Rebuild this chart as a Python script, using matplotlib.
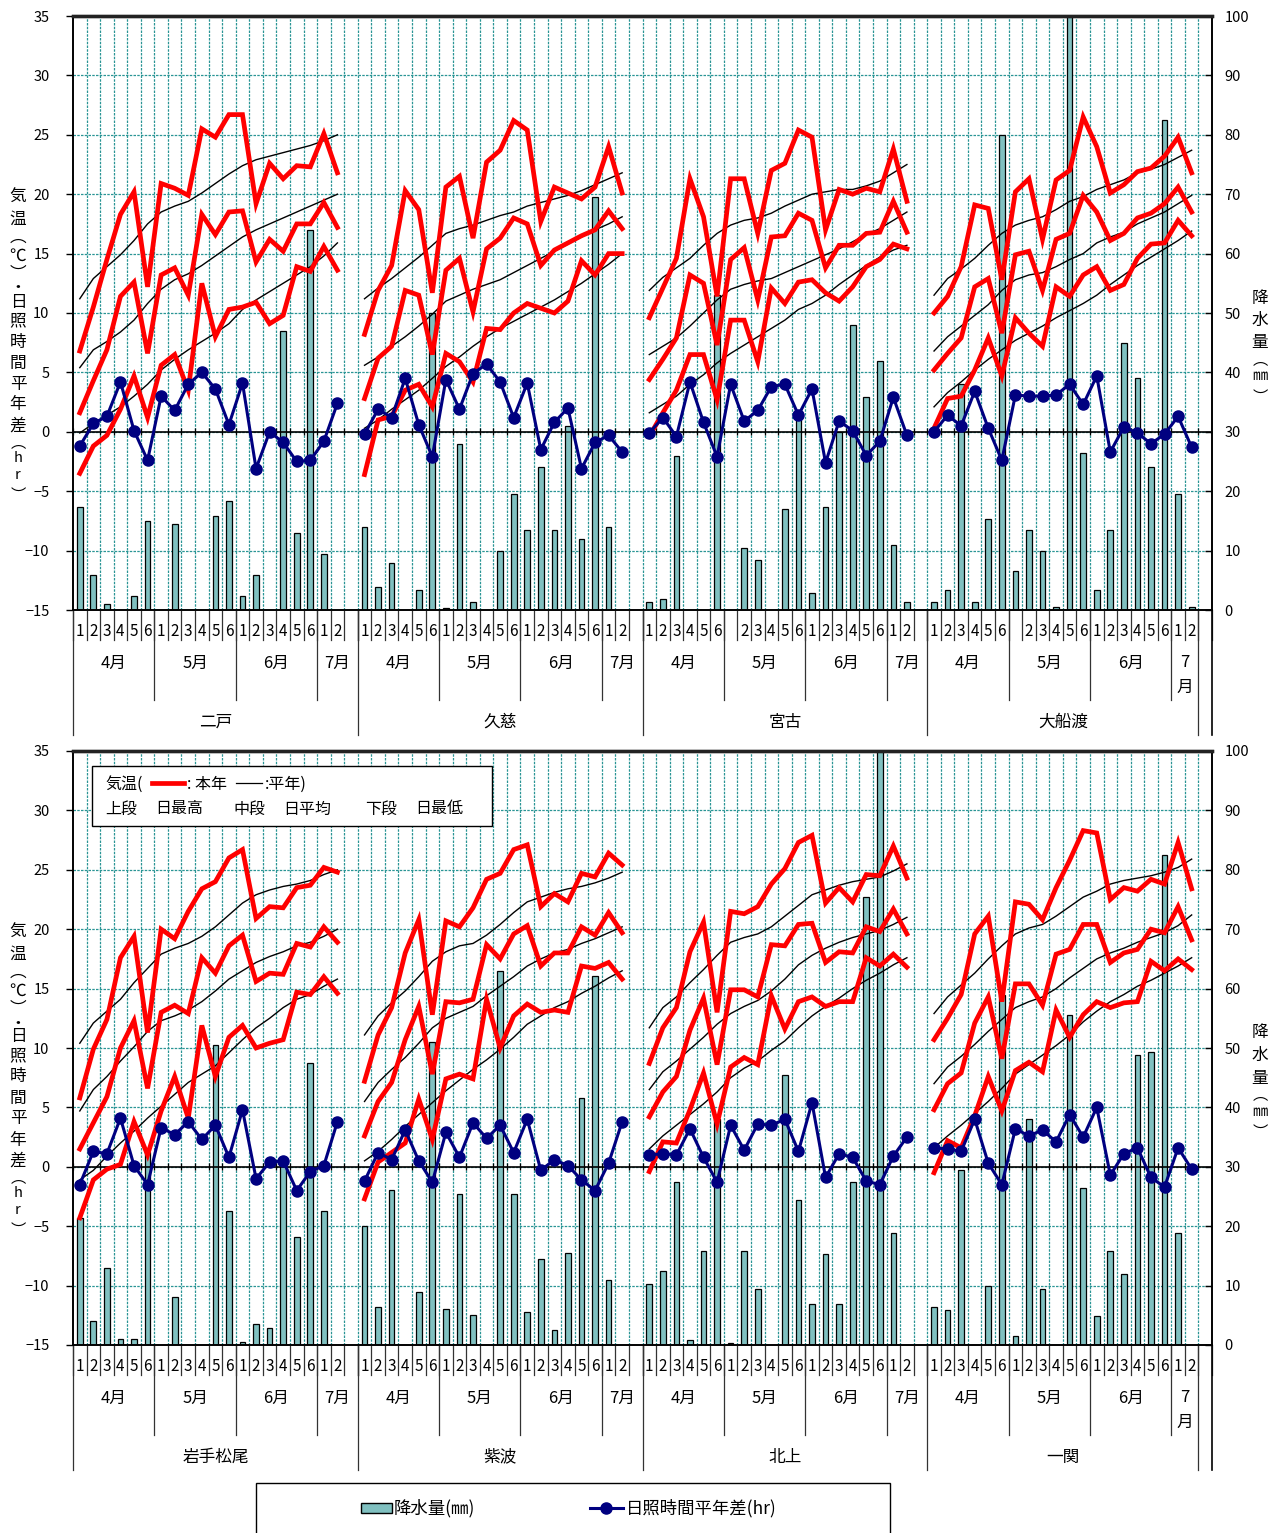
import numpy as np
import matplotlib
matplotlib.use("Agg")
import matplotlib.pyplot as plt
from matplotlib.patches import Rectangle
from matplotlib.lines import Line2D

plt.rcParams["font.family"] = ["Noto Sans CJK JP", "DejaVu Sans"]

W, H = 1284, 1533

# ---- category labels ----
months = ["4月", "5月", "6月", "7月"]
pentads = ["1", "2", "3", "4", "5", "6"] * 3 + ["1", "2"]
pentads_no_may1 = pentads[:6] + [""] + pentads[7:]

top_stations = ["二戸", "久慈", "宮古", "大船渡"]
bottom_stations = ["岩手松尾", "紫波", "北上", "一関"]

# ---- 二戸 ----
ninohe_tmax = [6.8, 10.5, 14.5, 18.3, 20.2, 12.2, 20.9, 20.5, 19.9, 25.5, 24.8, 26.7, 26.7, 19.2, 22.6, 21.3, 22.4, 22.3, 25.1, 21.8]
ninohe_tmax_n = [11.2, 12.9, 13.9, 14.9, 16.1, 17.5, 18.5, 19.0, 19.4, 20.1, 20.9, 21.7, 22.4, 22.9, 23.2, 23.5, 23.8, 24.1, 24.5, 25.0]
ninohe_tmean = [1.6, 4.3, 6.9, 11.4, 12.6, 6.6, 13.2, 13.8, 11.5, 18.3, 16.6, 18.5, 18.6, 14.3, 16.2, 15.2, 17.5, 17.5, 19.3, 17.2]
ninohe_tmean_n = [5.4, 6.9, 7.6, 8.4, 9.4, 10.8, 12.0, 12.8, 13.3, 14.0, 14.8, 15.6, 16.4, 17.0, 17.5, 18.0, 18.5, 19.0, 19.5, 20.0]
ninohe_tmin = [-3.5, -1.2, -0.3, 1.9, 4.7, 1.2, 5.6, 6.5, 3.5, 12.5, 8.0, 10.3, 10.5, 10.9, 9.1, 9.8, 13.9, 13.5, 15.6, 13.6]
ninohe_tmin_n = [-0.1, 0.7, 1.4, 2.1, 3.0, 4.0, 5.2, 6.1, 6.9, 7.6, 8.3, 9.1, 10.3, 11.1, 11.8, 12.5, 13.2, 13.9, 14.8, 15.9]
ninohe_sun = [-1.2, 0.7, 1.3, 4.2, 0.1, -2.4, 3.0, 1.8, 4.0, 5.0, 3.6, 0.6, 4.1, -3.1, 0.0, -0.9, -2.5, -2.4, -0.8, 2.4]
ninohe_rain = [17.4, 5.9, 1.0, 0, 2.4, 15.0, 0, 14.5, 0, 0, 15.9, 18.4, 2.4, 5.9, 0, 47.0, 12.9, 64.0, 9.4, 0]

# ---- 久慈 ----
kuji_tmax = [8.2, 11.9, 14.0, 20.3, 18.7, 11.7, 20.6, 21.5, 16.3, 22.7, 23.7, 26.2, 25.4, 17.7, 20.6, 20.1, 19.6, 20.6, 24.0, 20.1]
kuji_tmax_n = [11.2, 12.1, 12.9, 13.8, 14.7, 15.7, 16.7, 17.1, 17.4, 17.8, 18.2, 18.5, 19.0, 19.3, 19.6, 19.9, 20.3, 20.8, 21.3, 21.8]
kuji_tmean = [2.8, 6.2, 7.2, 11.9, 11.5, 6.5, 13.6, 14.6, 10.1, 15.4, 16.3, 18.0, 17.5, 14.0, 15.3, 15.9, 16.5, 17.0, 18.6, 17.1]
kuji_tmean_n = [5.6, 6.3, 7.2, 8.0, 8.9, 9.9, 11.0, 11.5, 12.0, 12.4, 12.8, 13.4, 14.0, 14.6, 15.2, 15.8, 16.4, 17.0, 17.5, 18.1]
kuji_tmin = [-3.6, 1.0, 1.3, 3.5, 4.0, 2.1, 6.6, 5.9, 4.2, 8.7, 8.6, 10.0, 10.8, 10.4, 10.0, 11.0, 14.4, 13.2, 15.0, 15.0]
kuji_tmin_n = [0.3, 1.0, 1.9, 2.7, 3.5, 4.5, 5.5, 6.3, 7.2, 8.0, 8.7, 9.3, 9.9, 10.5, 11.1, 11.8, 12.5, 13.3, 14.1, 15.0]
kuji_sun = [-0.2, 1.9, 1.2, 4.5, 0.6, -2.1, 4.4, 1.9, 4.9, 5.7, 4.2, 1.2, 4.1, -1.5, 0.8, 2.0, -3.1, -0.9, -0.3, -1.7]
kuji_rain = [13.9, 3.9, 7.9, 0, 3.4, 50.0, 0.4, 27.9, 1.4, 0, 10.0, 19.5, 13.5, 24.0, 13.5, 31.0, 12.0, 69.5, 13.9, 0]

# ---- 宮古 ----
miyako_tmax = [9.6, 12.1, 14.6, 21.3, 18.1, 11.4, 21.3, 21.3, 16.7, 22.0, 22.6, 25.4, 24.8, 17.0, 20.4, 20.0, 20.5, 20.2, 23.8, 19.4]
miyako_tmax_n = [11.9, 13.0, 13.8, 14.6, 15.7, 16.7, 17.4, 17.8, 18.0, 18.4, 19.0, 19.5, 20.0, 20.2, 20.4, 20.4, 20.7, 21.1, 21.8, 22.5]
miyako_tmean = [4.4, 6.1, 7.9, 13.2, 12.5, 7.3, 14.5, 15.5, 11.1, 16.4, 16.5, 18.4, 17.8, 13.8, 15.7, 15.7, 16.7, 16.8, 19.4, 16.8]
miyako_tmean_n = [6.5, 7.2, 7.9, 8.9, 10.0, 11.1, 12.0, 12.4, 12.7, 12.9, 13.4, 13.9, 14.4, 14.9, 15.4, 16.0, 16.6, 17.1, 17.8, 18.5]
miyako_tmin = [-0.4, 1.6, 3.5, 6.5, 6.5, 2.7, 9.4, 9.4, 5.9, 12.1, 10.8, 12.6, 12.8, 11.7, 11.0, 12.2, 13.9, 14.5, 15.8, 15.4]
miyako_tmin_n = [1.6, 2.3, 3.0, 4.0, 4.8, 5.8, 6.6, 7.3, 8.0, 8.7, 9.4, 10.3, 10.8, 11.5, 12.4, 13.2, 14.0, 14.7, 15.3, 15.7]
miyako_sun = [-0.1, 1.2, -0.4, 4.2, 0.8, -2.1, 4.0, 0.9, 1.8, 3.8, 4.0, 1.4, 3.6, -2.6, 0.9, 0.1, -2.0, -0.8, 2.9, -0.3]
miyako_rain = [1.4, 1.9, 26.0, 0, 0, 53.0, 0, 10.4, 8.4, 0, 17.0, 33.0, 2.9, 17.4, 30.0, 48.0, 35.9, 42.0, 10.9, 1.4]

# ---- 大船渡 ----
ofunato_tmax = [10.0, 11.4, 13.9, 19.1, 18.8, 12.8, 20.2, 21.3, 16.2, 21.2, 22.0, 26.5, 24.0, 20.1, 20.8, 21.9, 22.2, 23.2, 24.8, 21.8]
ofunato_tmax_n = [11.5, 12.9, 13.7, 14.6, 15.7, 16.7, 17.4, 17.8, 18.1, 18.7, 19.4, 19.8, 20.4, 20.8, 21.2, 21.8, 22.1, 22.5, 23.1, 23.7]
ofunato_tmean = [5.2, 6.6, 7.9, 12.2, 12.9, 8.3, 14.9, 15.2, 11.9, 16.2, 16.7, 19.9, 18.5, 16.1, 16.7, 18.0, 18.4, 19.2, 20.6, 18.5]
ofunato_tmean_n = [6.8, 8.0, 8.9, 9.8, 10.7, 11.9, 12.8, 13.2, 13.4, 13.9, 14.5, 15.0, 15.9, 16.4, 16.8, 17.5, 18.0, 18.5, 19.2, 19.9]
ofunato_tmin = [0.3, 2.8, 3.0, 5.2, 7.9, 4.7, 9.6, 8.3, 7.2, 12.2, 11.4, 13.2, 13.9, 11.9, 12.4, 14.6, 15.8, 15.9, 17.8, 16.5]
ofunato_tmin_n = [2.1, 3.3, 4.2, 5.2, 6.1, 6.9, 7.7, 8.3, 8.9, 9.6, 10.2, 10.8, 11.5, 12.4, 13.2, 14.0, 14.7, 15.4, 16.1, 16.9]
ofunato_sun = [0.0, 1.4, 0.5, 3.4, 0.3, -2.4, 3.1, 3.0, 3.0, 3.1, 4.0, 2.3, 4.7, -1.7, 0.4, -0.1, -1.0, -0.2, 1.3, -1.3]
ofunato_rain = [1.4, 3.4, 38.0, 1.4, 15.4, 80.0, 6.5, 13.5, 10.0, 0.5, 100.0, 26.5, 3.4, 13.5, 45.0, 39.0, 24.0, 82.5, 19.5, 0.5]

# ---- 岩手松尾 ----
matsuo_tmax = [5.8, 9.9, 12.4, 17.6, 19.4, 11.3, 20.0, 19.2, 21.5, 23.4, 24.0, 26.0, 26.7, 20.9, 21.9, 21.8, 23.5, 23.7, 25.2, 24.8]
matsuo_tmax_n = [10.4, 12.1, 13.1, 14.1, 15.5, 16.7, 17.9, 18.4, 18.8, 19.4, 20.2, 21.2, 22.2, 22.9, 23.3, 23.6, 23.8, 24.1, 24.6, 25.0]
matsuo_tmean = [1.5, 3.7, 5.9, 10.0, 12.3, 6.6, 13.0, 13.6, 12.9, 17.6, 16.3, 18.6, 19.5, 15.6, 16.3, 16.2, 18.8, 18.5, 20.2, 18.9]
matsuo_tmean_n = [4.7, 6.5, 7.6, 8.9, 10.1, 11.4, 12.3, 12.7, 13.2, 13.9, 14.8, 15.8, 16.5, 17.2, 17.7, 18.1, 18.6, 18.9, 19.4, 20.0]
matsuo_tmin = [-4.3, -1.1, -0.2, 0.2, 3.8, 1.0, 4.7, 7.6, 4.1, 11.9, 7.6, 10.9, 11.9, 10.0, 10.4, 10.7, 14.7, 14.5, 16.0, 14.6]
matsuo_tmin_n = [-1.1, -0.3, 0.9, 2.0, 3.0, 4.1, 5.1, 6.1, 7.1, 7.8, 8.5, 9.6, 10.7, 11.7, 12.5, 13.4, 14.1, 14.5, 15.2, 15.8]
matsuo_sun = [-1.5, 1.3, 1.1, 4.1, 0.1, -1.5, 3.3, 2.7, 3.8, 2.3, 3.5, 0.8, 4.8, -1.0, 0.4, 0.5, -2.0, -0.4, 0.1, 3.8]
matsuo_rain = [21.4, 4.0, 13.0, 1.0, 1.0, 32.5, 0, 8.0, 0, 0, 50.5, 22.5, 0.5, 3.5, 2.9, 31.0, 18.1, 47.5, 22.5, 0]

# ---- 紫波 ----
shiwa_tmax = [7.2, 11.1, 13.4, 18.0, 20.8, 12.8, 20.7, 20.2, 21.8, 24.2, 24.7, 26.7, 27.1, 21.9, 23.0, 22.3, 24.7, 24.4, 26.4, 25.4]
shiwa_tmax_n = [11.1, 12.7, 13.8, 14.8, 16.0, 17.3, 18.1, 18.6, 18.8, 19.5, 20.4, 21.4, 22.3, 22.7, 23.1, 23.4, 23.6, 23.9, 24.3, 24.8]
shiwa_tmean = [2.6, 5.5, 7.1, 10.7, 13.5, 7.8, 13.9, 13.8, 14.1, 18.7, 17.5, 19.6, 20.3, 16.9, 18.0, 18.0, 20.2, 19.5, 21.4, 19.7]
shiwa_tmean_n = [5.5, 7.1, 8.2, 9.2, 10.4, 11.7, 12.5, 13.0, 13.5, 14.4, 15.2, 16.0, 16.9, 17.5, 18.0, 18.3, 18.8, 19.2, 19.7, 20.2]
shiwa_tmin = [-2.7, 0.4, 1.2, 2.0, 5.7, 2.3, 7.4, 7.8, 7.4, 14.1, 10.0, 12.7, 13.7, 13.0, 13.2, 13.0, 16.9, 16.7, 17.2, 15.8]
shiwa_tmin_n = [0.5, 1.3, 2.3, 3.4, 4.4, 5.4, 6.4, 7.3, 8.2, 9.0, 9.9, 10.9, 12.0, 12.7, 13.4, 13.9, 14.6, 15.2, 15.9, 16.5]
shiwa_sun = [-1.2, 1.2, 0.6, 3.1, 0.5, -1.3, 2.9, 0.8, 3.7, 2.4, 3.5, 1.2, 4.0, -0.3, 0.6, 0.1, -1.1, -2.0, 0.3, 3.8]
shiwa_rain = [20.0, 6.4, 26.1, 0, 9.0, 51.0, 6.0, 25.5, 5.0, 0, 63.0, 25.5, 5.6, 14.5, 2.5, 15.5, 41.6, 62.1, 10.9, 0]

# ---- 北上 ----
kitakami_tmax = [8.7, 11.7, 13.4, 18.1, 20.6, 13.0, 21.5, 21.3, 21.9, 23.8, 25.1, 27.3, 27.9, 22.2, 23.5, 22.3, 24.6, 24.5, 27.0, 24.3]
kitakami_tmax_n = [11.7, 13.4, 14.3, 15.5, 16.6, 17.8, 18.9, 19.3, 19.6, 20.2, 21.1, 22.0, 22.9, 23.3, 23.7, 24.0, 24.2, 24.4, 24.9, 25.5]
kitakami_tmean = [4.2, 6.3, 7.6, 11.5, 14.2, 8.6, 14.9, 14.9, 14.3, 18.7, 18.6, 20.4, 20.5, 17.2, 18.1, 18.0, 20.2, 19.8, 21.7, 19.6]
kitakami_tmean_n = [6.5, 8.0, 8.9, 9.9, 10.9, 12.0, 12.9, 13.5, 14.0, 14.8, 15.8, 17.0, 17.8, 18.4, 18.9, 19.3, 19.6, 19.9, 20.4, 21.0]
kitakami_tmin = [-0.4, 2.1, 2.0, 4.8, 7.9, 3.6, 8.4, 9.2, 8.6, 14.4, 11.6, 13.9, 14.3, 13.5, 13.9, 13.9, 17.6, 16.9, 17.9, 16.8]
kitakami_tmin_n = [1.5, 2.6, 3.5, 4.4, 5.3, 6.3, 7.5, 8.3, 8.9, 9.8, 10.6, 11.7, 12.7, 13.5, 14.2, 15.0, 15.7, 16.3, 17.0, 17.6]
kitakami_sun = [1.0, 1.1, 1.0, 3.2, 0.8, -1.3, 3.5, 1.4, 3.6, 3.5, 4.0, 1.3, 5.4, -0.9, 1.1, 0.8, -1.2, -1.5, 0.9, 2.5]
kitakami_rain = [10.3, 12.4, 27.4, 0.8, 15.8, 38.0, 0.3, 15.8, 9.4, 0, 45.4, 24.4, 6.9, 15.4, 6.9, 27.4, 75.4, 100.0, 18.8, 0]

# ---- 一関 ----
ichinoseki_tmax = [10.7, 12.5, 14.5, 19.6, 21.1, 13.9, 22.3, 22.1, 20.8, 23.5, 25.8, 28.3, 28.1, 22.5, 23.5, 23.2, 24.2, 23.8, 27.3, 23.4]
ichinoseki_tmax_n = [12.9, 14.3, 15.3, 16.3, 17.5, 18.6, 19.6, 20.1, 20.4, 21.1, 21.9, 22.7, 23.2, 23.8, 24.1, 24.3, 24.5, 24.8, 25.2, 25.9]
ichinoseki_tmean = [4.8, 7.0, 7.9, 12.1, 14.3, 9.1, 15.4, 15.4, 13.6, 17.9, 18.3, 20.4, 20.4, 17.2, 18.0, 18.3, 20.0, 19.7, 21.9, 19.1]
ichinoseki_tmean_n = [7.0, 8.4, 9.3, 10.3, 11.4, 12.4, 13.4, 13.9, 14.3, 15.0, 15.9, 16.7, 17.5, 18.0, 18.4, 18.9, 19.3, 19.7, 20.3, 21.2]
ichinoseki_tmin = [-0.5, 2.2, 1.6, 4.3, 7.6, 4.7, 8.1, 8.8, 8.0, 13.2, 10.9, 12.8, 13.9, 13.4, 13.8, 13.9, 17.3, 16.5, 17.5, 16.6]
ichinoseki_tmin_n = [1.6, 2.6, 3.5, 4.5, 5.5, 6.6, 7.8, 8.6, 9.4, 10.2, 11.1, 12.2, 13.1, 13.9, 14.5, 15.2, 15.7, 16.3, 16.9, 17.6]
ichinoseki_sun = [1.6, 1.5, 1.3, 4.0, 0.3, -1.5, 3.2, 2.6, 3.1, 2.1, 4.4, 2.5, 5.0, -0.7, 1.1, 1.6, -0.9, -1.7, 1.6, -0.2]
ichinoseki_rain = [6.4, 5.9, 29.5, 0, 10.0, 59.0, 1.5, 38.0, 9.4, 0, 55.5, 26.4, 4.9, 15.9, 12.0, 48.9, 49.4, 82.5, 18.9, 0]

station_data = {
    "二戸": (ninohe_tmax, ninohe_tmax_n, ninohe_tmean, ninohe_tmean_n, ninohe_tmin, ninohe_tmin_n, ninohe_sun, ninohe_rain, pentads),
    "久慈": (kuji_tmax, kuji_tmax_n, kuji_tmean, kuji_tmean_n, kuji_tmin, kuji_tmin_n, kuji_sun, kuji_rain, pentads),
    "宮古": (miyako_tmax, miyako_tmax_n, miyako_tmean, miyako_tmean_n, miyako_tmin, miyako_tmin_n, miyako_sun, miyako_rain, pentads_no_may1),
    "大船渡": (ofunato_tmax, ofunato_tmax_n, ofunato_tmean, ofunato_tmean_n, ofunato_tmin, ofunato_tmin_n, ofunato_sun, ofunato_rain, pentads_no_may1),
    "岩手松尾": (matsuo_tmax, matsuo_tmax_n, matsuo_tmean, matsuo_tmean_n, matsuo_tmin, matsuo_tmin_n, matsuo_sun, matsuo_rain, pentads),
    "紫波": (shiwa_tmax, shiwa_tmax_n, shiwa_tmean, shiwa_tmean_n, shiwa_tmin, shiwa_tmin_n, shiwa_sun, shiwa_rain, pentads),
    "北上": (kitakami_tmax, kitakami_tmax_n, kitakami_tmean, kitakami_tmean_n, kitakami_tmin, kitakami_tmin_n, kitakami_sun, kitakami_rain, pentads),
    "一関": (ichinoseki_tmax, ichinoseki_tmax_n, ichinoseki_tmean, ichinoseki_tmean_n, ichinoseki_tmin, ichinoseki_tmin_n, ichinoseki_sun, ichinoseki_rain, pentads),
}

RED = "#ff0000"
NAVY = "#000080"
TEAL = "#80c0c0"
GRID = "#2a9595"

fig = plt.figure(figsize=(W / 100, H / 100), dpi=100)


def fx(x):
    return x / W


def fy(y):
    return 1 - y / H


def draw_panel(top_px, stations):
    ax = fig.add_axes([fx(73), fy(top_px + 594), 1139 / W, 594 / H])
    ax2 = ax.twinx()
    ax.set_zorder(ax2.get_zorder() + 1)
    ax.patch.set_visible(False)
    ax.set_xlim(-0.5, 83.5)
    ax.set_ylim(-15, 35)
    ax2.set_ylim(0, 100)

    # grid lives on the lower axes so the bars cover it
    bounds = np.arange(0.5, 83, 1)
    ax2.vlines(bounds, 0, 100, colors=GRID, linestyles=(0, (2, 1)), lw=0.9, zorder=0)
    ax2.hlines(np.arange(10, 100, 10), -0.5, 83.5, colors=GRID, linestyles=(0, (2, 1)), lw=0.9, zorder=0)

    ax.axhline(0, color="black", lw=1.2, zorder=1)
    ax.vlines(np.arange(-0.5, 84, 1), -0.3, 0.3, color="black", lw=0.9, zorder=1)

    tr = ax.get_xaxis_transform()
    for s, name in enumerate(stations):
        tmax, tmax_n, tmean, tmean_n, tmin, tmin_n, sun, rain, plabels = station_data[name]
        x = s * 21 + np.arange(20)
        rain = np.array(rain)
        m = rain > 0
        ax2.bar(x[m], rain[m], width=0.42, color=TEAL, edgecolor="black", lw=0.9, zorder=2)

        for ser in (tmax_n, tmean_n, tmin_n):
            ax.plot(x, ser, color="black", lw=1.0, zorder=3)
        for ser in (tmax, tmean, tmin):
            ax.plot(x, ser, color=RED, lw=3.4, zorder=4, solid_joinstyle="miter")
        ax.plot(x, sun, color=NAVY, lw=2.2, marker="o", ms=8, zorder=5)

        # pentad numbers
        for i, lab in enumerate(plabels):
            ax.text(x[i], -0.037, lab, transform=tr, ha="center", va="center", fontsize=11, clip_on=False)
        # months
        last = s == len(stations) - 1
        mpos = [2.5, 8.5, 14.5, 18.5 if last else 19]
        for k, mlab in enumerate(months):
            if last and k == 3:
                ax.text(s * 21 + mpos[k], -0.0892, "7", transform=tr, ha="center", va="center", fontsize=12, clip_on=False)
                ax.text(s * 21 + mpos[k], -0.1300, "月", transform=tr, ha="center", va="center", fontsize=12, clip_on=False)
            else:
                ax.text(s * 21 + mpos[k], -0.0892, mlab, transform=tr, ha="center", va="center", fontsize=12, clip_on=False)
        ax.text(s * 21 + (9.5 if last else 10), -0.1886, name, transform=tr, ha="center", va="center", fontsize=12, clip_on=False)

        # separators in the label area
        for b in s * 21 + np.arange(-0.5, 20.6, 1):
            ax.plot([b, b], [0, -0.0505], transform=tr, color="#333333", lw=0.9, clip_on=False)
        for b in s * 21 + np.array([5.5, 11.5, 17.5]):
            ax.plot([b, b], [0, -0.1515], transform=tr, color="#333333", lw=0.9, clip_on=False)
        ax.plot([s * 21 - 0.5] * 2, [0, -0.2104], transform=tr, color="#333333", lw=0.9, clip_on=False)
    ax.plot([82.5, 82.5], [0, -0.2104], transform=tr, color="#333333", lw=0.9, clip_on=False)
    ax.plot([83.5, 83.5], [0, -0.2104], transform=tr, color="black", lw=1.2, clip_on=False)

    ax.set_yticks(np.arange(-15, 36, 5))
    ax2.set_yticks(np.arange(0, 101, 10))
    ax.tick_params(axis="y", direction="out", length=5, width=1, pad=12, labelsize=10.5)
    ax2.tick_params(axis="y", direction="in", length=5, width=1, pad=9, labelsize=10.5)
    for a in (ax, ax2):
        a.tick_params(axis="x", bottom=False, labelbottom=False, top=False)
        a.set_xticks([])
        for sp in ("left", "right", "bottom"):
            a.spines[sp].set_color("black")
            a.spines[sp].set_linewidth(1.2)
        a.spines["top"].set_linewidth(2.4)
        a.spines["top"].set_color("#222222")
    return ax


def vertical_label(x, chars, ys, sizes):
    for c, y, sz in zip(chars, ys, sizes):
        fig.text(fx(x), fy(y), c, ha="center", va="center", fontsize=sz)


ax_top = draw_panel(16, top_stations)
ax_bot = draw_panel(751, bottom_stations)

left_chars = ["気", "温", "︵", "℃", "︶", "・", "日", "照", "時", "間", "平", "年", "差", "︵", "h", "r", "︶"]
left_ys = [197, 219, 237, 256, 274, 288, 302, 321, 342, 363, 384, 405, 426, 443, 458, 475, 495]
left_sizes = [12] * 13 + [11, 10.5, 10.5, 11]
right_chars = ["降", "水", "量", "︵", "㎜", "︶"]
right_ys = [298, 320, 343, 360, 376, 397]
right_sizes = [12, 12, 12, 11, 11, 11]
for off in (0, 735):
    vertical_label(18, left_chars, [y + off for y in left_ys], left_sizes)
    vertical_label(1260, right_chars, [y + off for y in right_ys], right_sizes)

# temperature legend box inside the lower panel
fig.patches.append(Rectangle((fx(92), fy(826)), 400 / W, 60 / H, transform=fig.transFigure,
                             facecolor="white", edgecolor="black", lw=1.0, zorder=10))
fig.text(fx(105), fy(784), "気温(", ha="left", va="center", fontsize=11.5, zorder=11)
fig.add_artist(Line2D([fx(152), fx(184)], [fy(783), fy(783)], color=RED, lw=3.4, zorder=11))
fig.text(fx(187), fy(784), ": 本年", ha="left", va="center", fontsize=11.5, zorder=11)
fig.add_artist(Line2D([fx(236), fx(262)], [fy(783), fy(783)], color="black", lw=0.9, zorder=11))
fig.text(fx(265), fy(784), ":平年)", ha="left", va="center", fontsize=11.5, zorder=11)
for x, t in ((105, "上段"), (155, "日最高"), (233, "中段"), (283, "日平均"), (365, "下段"), (415, "日最低")):
    fig.text(fx(x), fy(809), t, ha="left", va="center", fontsize=11.5, zorder=11)

# series legend at the bottom
fig.patches.append(Rectangle((fx(256), fy(1545)), 634 / W, 62 / H, transform=fig.transFigure,
                             facecolor="white", edgecolor="black", lw=1.0))
fig.patches.append(Rectangle((fx(361), fy(1513)), 31 / W, 10 / H, transform=fig.transFigure,
                             facecolor=TEAL, edgecolor="black", lw=1.0))
fig.text(fx(394), fy(1508), "降水量(㎜)", ha="left", va="center", fontsize=12.5)
fig.add_artist(Line2D([fx(590), fx(623)], [fy(1508), fy(1508)], color=NAVY, lw=2.2))
fig.add_artist(Line2D([fx(606)], [fy(1508)], color=NAVY, marker="o", ms=8))
fig.text(fx(626), fy(1508), "日照時間平年差(hr)", ha="left", va="center", fontsize=12.5)

fig.savefig("out.png", dpi=100)
